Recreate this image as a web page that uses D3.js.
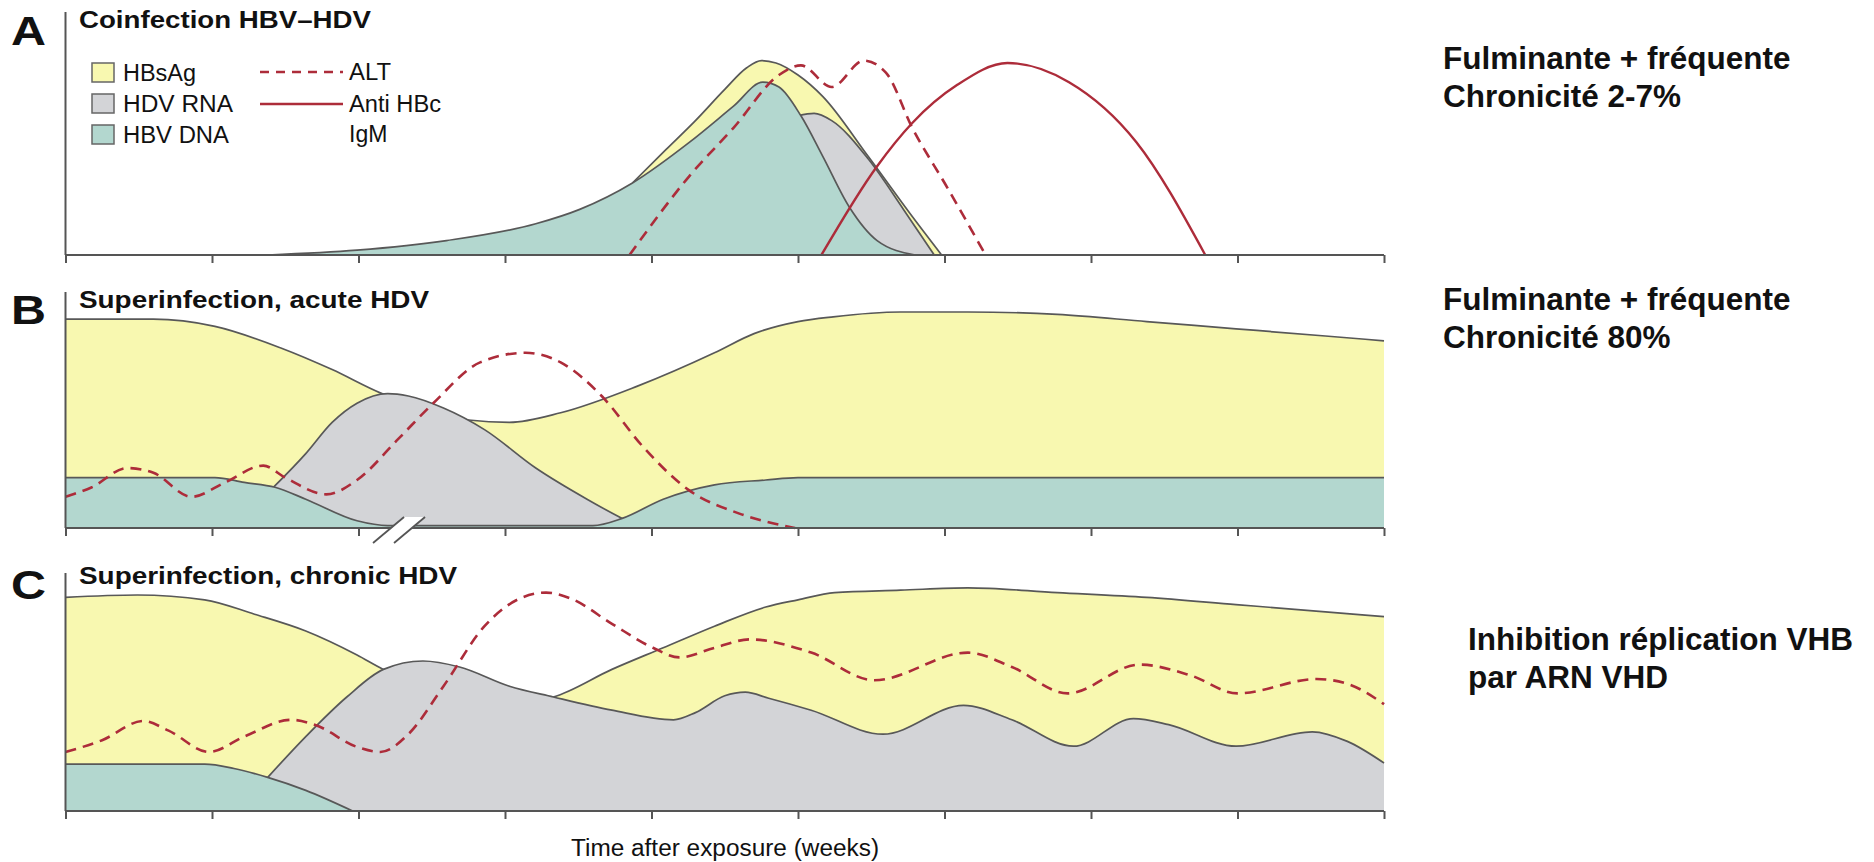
<!DOCTYPE html>
<html>
<head>
<meta charset="utf-8">
<script src="https://cdn.jsdelivr.net/npm/d3@7"></script>
<style>
body { margin: 0; background: #fff; }
text { font-family: "Liberation Sans", Arial, sans-serif; fill: #111; }
</style>
</head>
<body>
<script>
(function(){

//x values are in tick units (0-9), y values in % of panel height
var xTicks = d3.range(0, 10);

//panel A - coinfection
var aHBsAg = [[3.87,30],[4.1,44],[4.3,56],[4.5,69],[4.65,78],[4.75,81],[4.85,80],[5.0,75],[5.17,66],[5.48,41],[5.78,16],[5.98,0]];
var aHDV = [[5.0,58],[5.11,59],[5.23,56],[5.48,40],[5.72,19],[5.93,0]];
var aHBV = [[1.38,0],[1.99,2],[2.6,6],[3.21,13],[3.51,19],[3.87,30],[4.26,47],[4.56,62],[4.76,72],[4.87,70],[5.02,58],[5.17,41],[5.35,20],[5.54,6],[5.8,0]];
var aALT = [[3.85,0],[4.26,33],[4.56,53],[4.87,75],[5.02,79],[5.23,70],[5.45,81],[5.6,76],[5.78,53],[6.02,28],[6.28,0]];
var aAntiHBc = [[5.16,0],[5.54,37],[5.78,55],[6.09,71],[6.43,80],[6.85,72],[7.31,47],[7.78,0]];

//panel B - superinfection, acute
var bHBsAg = [[0,87],[0.6,87],[1.02,84],[1.47,75],[1.82,66],[2.16,56],[2.51,49],[2.75,45],[3.03,44],[3.38,48],[3.9,59],[4.43,73],[4.7,81],[5.0,86],[5.24,88],[5.7,90],[6.16,90],[6.77,89],[7.38,86],[7.99,83],[8.6,80],[9,78]];
var bHDV = [[1.42,17],[1.64,31],[1.82,44],[1.99,52],[2.2,56],[2.34,55],[2.58,50],[2.86,41],[3.21,25],[3.56,12],[3.8,4],[3.94,0]];
var bHBV = [[0,21],[1.02,21],[1.22,19],[1.43,17],[1.64,12],[1.99,3],[2.2,1],[3.6,1],[3.8,4],[4.08,12],[4.43,18],[4.78,20],[5.0,21],[9,21]];
var bALT = [[0,13],[0.18,17],[0.42,25],[0.6,23],[0.86,13],[1.09,19],[1.35,26],[1.5,21],[1.78,14],[1.99,20],[2.27,37],[2.51,52],[2.83,69],[3.14,73],[3.38,69],[3.66,55],[3.94,34],[4.25,16],[4.6,6],[4.98,0]];

//panel C - superinfection, chronic
var cHBsAg = [[0,89],[0.49,90],[0.95,88],[1.29,82],[1.64,75],[1.99,65],[2.17,59],[2.5,51],[2.8,46],[3.1,45],[3.33,47.5],[3.73,59],[4.08,68],[4.43,77],[4.78,85],[5.0,88],[5.25,91],[5.7,92],[6.16,93],[6.77,91],[7.38,89],[7.99,86],[8.6,83],[9,81]];
var cHDV = [[1.38,14],[1.64,31],[1.92,47.5],[2.17,59],[2.44,62.5],[2.69,60],[3.03,52],[3.33,47.5],[3.73,42],[4.15,38],[4.3,41],[4.5,48],[4.64,49.5],[4.8,47],[5.09,42],[5.58,32],[6.13,44],[6.46,38],[6.88,27],[7.29,38.5],[7.53,36],[7.99,27],[8.51,33],[8.75,29],[9,20]];
var cHBV = [[0,19.5],[0.95,19.5],[1.15,17.7],[1.38,14],[1.64,8.6],[1.96,0]];
var cALT = [[0,24.6],[0.25,29.5],[0.53,37.5],[0.7,33.6],[0.98,24.6],[1.22,31],[1.54,38],[1.71,35.7],[1.99,26.7],[2.15,24.6],[2.34,32],[2.58,52],[2.86,77],[3.1,88.5],[3.28,91],[3.45,88.5],[3.73,78],[4.01,68],[4.19,64],[4.43,68],[4.67,71.5],[5.09,66],[5.52,54.5],[6.16,66],[6.46,60],[6.84,49],[7.33,61],[7.68,56.5],[8.0,49],[8.54,55],[8.75,53],[9,44.5]];

var legendAreas = ["HBsAg", "HDV RNA", "HBV DNA"];
var notesA = ["Fulminante + fréquente", "Chronicité 2-7%"];
var notesB = ["Fulminante + fréquente", "Chronicité 80%"];
var notesC = ["Inhibition réplication VHB", "par ARN VHD"];

var colors = { HBsAg: "#f8f8b0", HDV: "#d3d4d7", HBV: "#b3d7cf", red: "#ad2c3a", edge: "#585858" };

var width = 1874, height = 862;

var svg = d3.select("body").append("svg")
  .attr("width", width)
  .attr("height", height);

var x = d3.scaleLinear().domain([0, 9]).range([65.5, 1384]);

var panels = [
  { letter: "A", title: "Coinfection HBV\u2013HDV", titleLen: 292, base: 255, top: 12, letterY: 45, titleY: 28,
    hbsag: aHBsAg, hdv: aHDV, hbv: aHBV, alt: aALT, anti: aAntiHBc, notes: notesA, noteX: 1443, noteY: 69 },
  { letter: "B", title: "Superinfection, acute HDV", titleLen: 350, base: 528, top: 292, letterY: 324, titleY: 308,
    hbsag: bHBsAg, hdv: bHDV, hbv: bHBV, alt: bALT, anti: null, notes: notesB, noteX: 1443, noteY: 310 },
  { letter: "C", title: "Superinfection, chronic HDV", titleLen: 378, base: 811, top: 573, letterY: 599, titleY: 584,
    hbsag: cHBsAg, hdv: cHDV, hbv: cHBV, alt: cALT, anti: null, notes: notesC, noteX: 1468, noteY: 650 }
];

panels.forEach(function(p){
  var y = d3.scaleLinear().domain([0, 100]).range([p.base, p.base - 240]);
  var g = svg.append("g").attr("class", "panel" + p.letter);

  var area = d3.area()
    .x(function(d){ return x(d[0]); })
    .y0(y(0))
    .y1(function(d){ return y(d[1]); })
    .curve(d3.curveMonotoneX);
  var line = d3.line()
    .x(function(d){ return x(d[0]); })
    .y(function(d){ return y(d[1]); })
    .curve(d3.curveMonotoneX);

  //areas back to front, each with its outline on top
  [[p.hbsag, colors.HBsAg], [p.hdv, colors.HDV], [p.hbv, colors.HBV]].forEach(function(s){
    g.append("path").datum(s[0]).attr("d", area).attr("fill", s[1]).attr("stroke", "none");
    g.append("path").datum(s[0]).attr("d", line).attr("fill", "none")
      .attr("stroke", colors.edge).attr("stroke-width", 1.7);
  });

  g.append("path").datum(p.alt).attr("d", line)
    .attr("fill", "none").attr("stroke", colors.red)
    .attr("stroke-width", 2.6).attr("stroke-dasharray", "11,7");

  if (p.anti) {
    g.append("path").datum(p.anti).attr("d", line)
      .attr("fill", "none").attr("stroke", colors.red).attr("stroke-width", 2.4);
  }

  //axes
  var xAxis = d3.axisBottom(x).tickValues(xTicks).tickSize(8).tickFormat("");
  var ax = g.append("g").attr("transform", "translate(0," + p.base + ")").call(xAxis);
  ax.select(".domain").attr("stroke", "#555").attr("stroke-width", 2).attr("d", "M" + x(0) + ",0H" + x(9));
  ax.selectAll(".tick line").attr("stroke", "#555").attr("stroke-width", 2);

  g.append("line")
    .attr("x1", x(0)).attr("x2", x(0))
    .attr("y1", p.top).attr("y2", p.base)
    .attr("stroke", "#555").attr("stroke-width", 2);

  //panel letter and title
  g.append("text").attr("x", 11).attr("y", p.letterY)
    .attr("font-size", 41).attr("font-weight", "bold")
    .attr("textLength", 35).attr("lengthAdjust", "spacingAndGlyphs")
    .text(p.letter);
  g.append("text").attr("x", 79).attr("y", p.titleY)
    .attr("font-size", 24).attr("font-weight", "bold")
    .attr("textLength", p.titleLen).attr("lengthAdjust", "spacingAndGlyphs")
    .text(p.title);

  //side notes
  g.selectAll(".note").data(p.notes).enter().append("text")
    .attr("class", "note")
    .attr("x", p.noteX)
    .attr("y", function(d, i){ return p.noteY + i * 38; })
    .attr("font-size", 31.5).attr("font-weight", "bold")
    .text(function(d){ return d; });
});

//axis break in panel B
var bBase = panels[1].base, bx = x(2.28);
svg.append("path")
  .attr("d", "M" + (bx - 26) + "," + (bBase + 15) + "L" + (bx + 5) + "," + (bBase - 11) +
             "L" + (bx + 26) + "," + (bBase - 11) + "L" + (bx - 5) + "," + (bBase + 15) + "Z")
  .attr("fill", "#fff");
[-10.5, 10.5].forEach(function(dx){
  svg.append("line")
    .attr("x1", bx + dx - 16).attr("y1", bBase + 15)
    .attr("x2", bx + dx + 15).attr("y2", bBase - 11)
    .attr("stroke", "#555").attr("stroke-width", 1.8);
});

//legend in panel A
var leg = svg.append("g").attr("class", "legend");
var legFill = [colors.HBsAg, colors.HDV, colors.HBV];
var legLen = [73, 110, 106];
leg.selectAll("rect").data(legendAreas).enter().append("rect")
  .attr("x", 92).attr("y", function(d, i){ return 63 + i * 31; })
  .attr("width", 22).attr("height", 19)
  .attr("fill", function(d, i){ return legFill[i]; })
  .attr("stroke", "#666").attr("stroke-width", 1.5);
leg.selectAll(".lab").data(legendAreas).enter().append("text")
  .attr("class", "lab")
  .attr("x", 123).attr("y", function(d, i){ return 81 + i * 31; })
  .attr("font-size", 23)
  .attr("textLength", function(d, i){ return legLen[i]; })
  .attr("lengthAdjust", "spacingAndGlyphs")
  .text(function(d){ return d; });

leg.append("line").attr("x1", 260).attr("x2", 343).attr("y1", 72).attr("y2", 72)
  .attr("stroke", colors.red).attr("stroke-width", 2.4).attr("stroke-dasharray", "9,7");
leg.append("line").attr("x1", 260).attr("x2", 343).attr("y1", 104).attr("y2", 104)
  .attr("stroke", colors.red).attr("stroke-width", 2.4);
leg.append("text").attr("x", 349).attr("y", 80).attr("font-size", 23)
  .attr("textLength", 42).attr("lengthAdjust", "spacingAndGlyphs").text("ALT");
leg.append("text").attr("x", 349).attr("y", 112).attr("font-size", 23)
  .attr("textLength", 92).attr("lengthAdjust", "spacingAndGlyphs").text("Anti HBc");
leg.append("text").attr("x", 349).attr("y", 142).attr("font-size", 23).text("IgM");

//x axis label
svg.append("text")
  .attr("x", 571).attr("y", 856)
  .attr("font-size", 23)
  .attr("textLength", 308).attr("lengthAdjust", "spacingAndGlyphs")
  .text("Time after exposure (weeks)");

})();
</script>
</body>
</html>
